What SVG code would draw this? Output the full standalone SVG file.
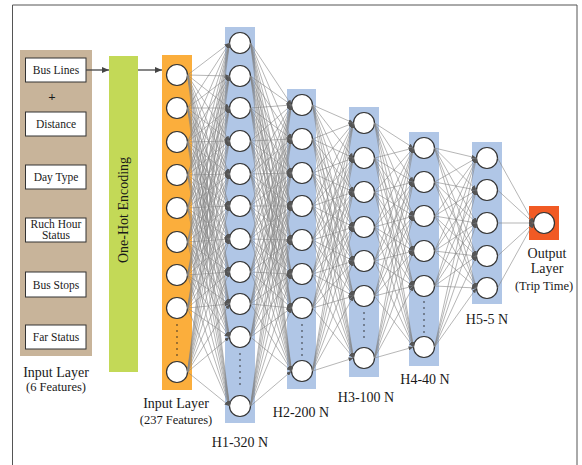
<svg xmlns="http://www.w3.org/2000/svg" width="582" height="465" viewBox="0 0 582 465">
<style>
text{font-family:"Liberation Serif","Times New Roman",serif;fill:#1a1a1a;text-anchor:middle}
.bx{fill:#fff;stroke:#333;stroke-width:1}
.bt{font-size:11.5px}
.lb{font-size:14px}
.sm{font-size:12.5px}
.n{fill:#fff;stroke:#333;stroke-width:1.2}
.band{fill:#b0c6e6}
.dots{stroke:#222;stroke-width:1.6;stroke-linecap:round;stroke-dasharray:0 6;fill:none}
#connectors line{stroke:#858585;stroke-width:0.6;marker-end:url(#ah)}
.arr{stroke:#444;stroke-width:1.3;fill:none;marker-end:url(#ah2)}
</style>
<defs>
<marker id="ah" markerWidth="5" markerHeight="4" refX="5" refY="2" orient="auto" markerUnits="userSpaceOnUse"><path d="M0 0L5 2L0 4z" fill="#555"/></marker>
<marker id="ah2" markerWidth="7" markerHeight="6" refX="7" refY="3" orient="auto" markerUnits="userSpaceOnUse"><path d="M0 0L7 3L0 6z" fill="#444"/></marker>
</defs>
<path d="M12.5 466V5H577V466" fill="none" stroke="#555" stroke-width="1"/>

<g id="input-features">
<rect x="20" y="50" width="72" height="306" fill="#c8b49a"/>
<rect class="bx" x="25.5" y="58" width="60.5" height="24"/>
<text class="bt" x="56" y="74">Bus Lines</text>
<text x="52" y="101" style="font-size:13px;font-weight:bold">+</text>
<rect class="bx" x="25.5" y="112" width="60.5" height="24"/>
<text class="bt" x="56" y="128">Distance</text>
<rect class="bx" x="25.5" y="165" width="60.5" height="24"/>
<text class="bt" x="56" y="181">Day Type</text>
<rect class="bx" x="25.5" y="218" width="60.5" height="24"/>
<text class="bt" x="56" y="228">Ruch Hour</text>
<text class="bt" x="56" y="239">Status</text>
<rect class="bx" x="25.5" y="272" width="60.5" height="25"/>
<text class="bt" x="56" y="288.5">Bus Stops</text>
<rect class="bx" x="25.5" y="325" width="60.5" height="24"/>
<text class="bt" x="56" y="341">Far Status</text>
<text class="lb" x="56" y="377">Input Layer</text>
<text class="sm" x="56" y="391">(6 Features)</text>
</g>

<g id="one-hot">
<rect x="109" y="56" width="29" height="316" fill="#c3d957"/>
<text class="lb" transform="translate(128,210) rotate(-90)">One-Hot Encoding</text>
</g>

<g id="arrows">
<line class="arr" x1="86" y1="70" x2="109" y2="70"/>
<line class="arr" x1="138" y1="70" x2="162" y2="70"/>
</g>

<g id="layer-input">
<rect x="162" y="55" width="30" height="335" fill="#fbae3c"/>
<circle class="n" cx="177" cy="75" r="10.5"/><circle class="n" cx="177" cy="108" r="10.5"/><circle class="n" cx="177" cy="142" r="10.5"/><circle class="n" cx="177" cy="175" r="10.5"/><circle class="n" cx="177" cy="208" r="10.5"/><circle class="n" cx="177" cy="242" r="10.5"/><circle class="n" cx="177" cy="275" r="10.5"/><circle class="n" cx="177" cy="308" r="10.5"/><circle class="n" cx="177" cy="372" r="10.5"/>
<line class="dots" x1="177" y1="325" x2="177" y2="358"/>
<text class="lb" x="176" y="408">Input Layer</text>
<text class="sm" x="176" y="424">(237 Features)</text>
</g>

<g id="layer-h1">
<rect class="band" x="225" y="27" width="30" height="396"/>
<circle class="n" cx="240" cy="43" r="10.5"/><circle class="n" cx="240" cy="76" r="10.5"/><circle class="n" cx="240" cy="108" r="10.5"/><circle class="n" cx="240" cy="141" r="10.5"/><circle class="n" cx="240" cy="174" r="10.5"/><circle class="n" cx="240" cy="206" r="10.5"/><circle class="n" cx="240" cy="239" r="10.5"/><circle class="n" cx="240" cy="272" r="10.5"/><circle class="n" cx="240" cy="304" r="10.5"/><circle class="n" cx="240" cy="337" r="10.5"/><circle class="n" cx="240" cy="406" r="10.5"/>
<line class="dots" x1="240" y1="354" x2="240" y2="390"/>
<text class="lb" x="240" y="447">H1-320 N</text>
</g>

<g id="layer-h2">
<rect class="band" x="287" y="89" width="29" height="300"/>
<circle class="n" cx="302" cy="105" r="10.5"/><circle class="n" cx="302" cy="139" r="10.5"/><circle class="n" cx="302" cy="173" r="10.5"/><circle class="n" cx="302" cy="206" r="10.5"/><circle class="n" cx="302" cy="240" r="10.5"/><circle class="n" cx="302" cy="274" r="10.5"/><circle class="n" cx="302" cy="308" r="10.5"/><circle class="n" cx="302" cy="371" r="10.5"/>
<line class="dots" x1="302" y1="325" x2="302" y2="357"/>
<text class="lb" x="301" y="417">H2-200 N</text>
</g>

<g id="layer-h3">
<rect class="band" x="349" y="107" width="30" height="270"/>
<circle class="n" cx="364" cy="123" r="10.5"/><circle class="n" cx="364" cy="158" r="10.5"/><circle class="n" cx="364" cy="192" r="10.5"/><circle class="n" cx="364" cy="227" r="10.5"/><circle class="n" cx="364" cy="261" r="10.5"/><circle class="n" cx="364" cy="296" r="10.5"/><circle class="n" cx="364" cy="358" r="10.5"/>
<line class="dots" x1="364" y1="313" x2="364" y2="343"/>
<text class="lb" x="366" y="402">H3-100 N</text>
</g>

<g id="layer-h4">
<rect class="band" x="409" y="132" width="30" height="234"/>
<circle class="n" cx="424" cy="148" r="10.5"/><circle class="n" cx="424" cy="182" r="10.5"/><circle class="n" cx="424" cy="216" r="10.5"/><circle class="n" cx="424" cy="251" r="10.5"/><circle class="n" cx="424" cy="286" r="10.5"/><circle class="n" cx="424" cy="347" r="10.5"/>
<line class="dots" x1="424" y1="302" x2="424" y2="333"/>
<text class="lb" x="425" y="384">H4-40 N</text>
</g>

<g id="layer-h5">
<rect class="band" x="472" y="142" width="30" height="162"/>
<circle class="n" cx="487" cy="158" r="10.5"/><circle class="n" cx="487" cy="190" r="10.5"/><circle class="n" cx="487" cy="223" r="10.5"/><circle class="n" cx="487" cy="256" r="10.5"/><circle class="n" cx="487" cy="288" r="10.5"/>
<text class="lb" x="487" y="324">H5-5 N</text>
</g>

<g id="layer-output">
<rect x="529" y="206" width="30" height="34" fill="#f15a24"/>
<circle class="n" cx="544" cy="223" r="10.5"/>
<text class="lb" x="547" y="258">Output</text>
<text class="lb" x="547" y="273">Layer</text>
<text class="sm" x="544" y="290">(Trip Time)</text>
</g>

<g id="connectors">
<g transform="translate(187.5,0)">
<line y1="75" x2="42" y2="43"/><line y1="75" x2="42" y2="76"/><line y1="75" x2="42" y2="108"/><line y1="75" x2="42" y2="141"/><line y1="75" x2="42" y2="174"/><line y1="75" x2="42" y2="206"/><line y1="75" x2="42" y2="239"/><line y1="75" x2="42" y2="272"/><line y1="75" x2="42" y2="304"/><line y1="75" x2="42" y2="337"/><line y1="75" x2="42" y2="406"/>
<line y1="108" x2="42" y2="43"/><line y1="108" x2="42" y2="76"/><line y1="108" x2="42" y2="108"/><line y1="108" x2="42" y2="141"/><line y1="108" x2="42" y2="174"/><line y1="108" x2="42" y2="206"/><line y1="108" x2="42" y2="239"/><line y1="108" x2="42" y2="272"/><line y1="108" x2="42" y2="304"/><line y1="108" x2="42" y2="337"/><line y1="108" x2="42" y2="406"/>
<line y1="142" x2="42" y2="43"/><line y1="142" x2="42" y2="76"/><line y1="142" x2="42" y2="108"/><line y1="142" x2="42" y2="141"/><line y1="142" x2="42" y2="174"/><line y1="142" x2="42" y2="206"/><line y1="142" x2="42" y2="239"/><line y1="142" x2="42" y2="272"/><line y1="142" x2="42" y2="304"/><line y1="142" x2="42" y2="337"/><line y1="142" x2="42" y2="406"/>
<line y1="175" x2="42" y2="43"/><line y1="175" x2="42" y2="76"/><line y1="175" x2="42" y2="108"/><line y1="175" x2="42" y2="141"/><line y1="175" x2="42" y2="174"/><line y1="175" x2="42" y2="206"/><line y1="175" x2="42" y2="239"/><line y1="175" x2="42" y2="272"/><line y1="175" x2="42" y2="304"/><line y1="175" x2="42" y2="337"/><line y1="175" x2="42" y2="406"/>
<line y1="208" x2="42" y2="43"/><line y1="208" x2="42" y2="76"/><line y1="208" x2="42" y2="108"/><line y1="208" x2="42" y2="141"/><line y1="208" x2="42" y2="174"/><line y1="208" x2="42" y2="206"/><line y1="208" x2="42" y2="239"/><line y1="208" x2="42" y2="272"/><line y1="208" x2="42" y2="304"/><line y1="208" x2="42" y2="337"/><line y1="208" x2="42" y2="406"/>
<line y1="242" x2="42" y2="43"/><line y1="242" x2="42" y2="76"/><line y1="242" x2="42" y2="108"/><line y1="242" x2="42" y2="141"/><line y1="242" x2="42" y2="174"/><line y1="242" x2="42" y2="206"/><line y1="242" x2="42" y2="239"/><line y1="242" x2="42" y2="272"/><line y1="242" x2="42" y2="304"/><line y1="242" x2="42" y2="337"/><line y1="242" x2="42" y2="406"/>
<line y1="275" x2="42" y2="43"/><line y1="275" x2="42" y2="76"/><line y1="275" x2="42" y2="108"/><line y1="275" x2="42" y2="141"/><line y1="275" x2="42" y2="174"/><line y1="275" x2="42" y2="206"/><line y1="275" x2="42" y2="239"/><line y1="275" x2="42" y2="272"/><line y1="275" x2="42" y2="304"/><line y1="275" x2="42" y2="337"/><line y1="275" x2="42" y2="406"/>
<line y1="308" x2="42" y2="43"/><line y1="308" x2="42" y2="76"/><line y1="308" x2="42" y2="108"/><line y1="308" x2="42" y2="141"/><line y1="308" x2="42" y2="174"/><line y1="308" x2="42" y2="206"/><line y1="308" x2="42" y2="239"/><line y1="308" x2="42" y2="272"/><line y1="308" x2="42" y2="304"/><line y1="308" x2="42" y2="337"/><line y1="308" x2="42" y2="406"/>
<line y1="372" x2="42" y2="43"/><line y1="372" x2="42" y2="76"/><line y1="372" x2="42" y2="108"/><line y1="372" x2="42" y2="141"/><line y1="372" x2="42" y2="174"/><line y1="372" x2="42" y2="206"/><line y1="372" x2="42" y2="239"/><line y1="372" x2="42" y2="272"/><line y1="372" x2="42" y2="304"/><line y1="372" x2="42" y2="337"/><line y1="372" x2="42" y2="406"/>
</g>
<g transform="translate(250.5,0)">
<line y1="43" x2="41" y2="105"/><line y1="43" x2="41" y2="139"/><line y1="43" x2="41" y2="173"/><line y1="43" x2="41" y2="206"/><line y1="43" x2="41" y2="240"/><line y1="43" x2="41" y2="274"/><line y1="43" x2="41" y2="308"/><line y1="43" x2="41" y2="371"/>
<line y1="76" x2="41" y2="105"/><line y1="76" x2="41" y2="139"/><line y1="76" x2="41" y2="173"/><line y1="76" x2="41" y2="206"/><line y1="76" x2="41" y2="240"/><line y1="76" x2="41" y2="274"/><line y1="76" x2="41" y2="308"/><line y1="76" x2="41" y2="371"/>
<line y1="108" x2="41" y2="105"/><line y1="108" x2="41" y2="139"/><line y1="108" x2="41" y2="173"/><line y1="108" x2="41" y2="206"/><line y1="108" x2="41" y2="240"/><line y1="108" x2="41" y2="274"/><line y1="108" x2="41" y2="308"/><line y1="108" x2="41" y2="371"/>
<line y1="141" x2="41" y2="105"/><line y1="141" x2="41" y2="139"/><line y1="141" x2="41" y2="173"/><line y1="141" x2="41" y2="206"/><line y1="141" x2="41" y2="240"/><line y1="141" x2="41" y2="274"/><line y1="141" x2="41" y2="308"/><line y1="141" x2="41" y2="371"/>
<line y1="174" x2="41" y2="105"/><line y1="174" x2="41" y2="139"/><line y1="174" x2="41" y2="173"/><line y1="174" x2="41" y2="206"/><line y1="174" x2="41" y2="240"/><line y1="174" x2="41" y2="274"/><line y1="174" x2="41" y2="308"/><line y1="174" x2="41" y2="371"/>
<line y1="206" x2="41" y2="105"/><line y1="206" x2="41" y2="139"/><line y1="206" x2="41" y2="173"/><line y1="206" x2="41" y2="206"/><line y1="206" x2="41" y2="240"/><line y1="206" x2="41" y2="274"/><line y1="206" x2="41" y2="308"/><line y1="206" x2="41" y2="371"/>
<line y1="239" x2="41" y2="105"/><line y1="239" x2="41" y2="139"/><line y1="239" x2="41" y2="173"/><line y1="239" x2="41" y2="206"/><line y1="239" x2="41" y2="240"/><line y1="239" x2="41" y2="274"/><line y1="239" x2="41" y2="308"/><line y1="239" x2="41" y2="371"/>
<line y1="272" x2="41" y2="105"/><line y1="272" x2="41" y2="139"/><line y1="272" x2="41" y2="173"/><line y1="272" x2="41" y2="206"/><line y1="272" x2="41" y2="240"/><line y1="272" x2="41" y2="274"/><line y1="272" x2="41" y2="308"/><line y1="272" x2="41" y2="371"/>
<line y1="304" x2="41" y2="105"/><line y1="304" x2="41" y2="139"/><line y1="304" x2="41" y2="173"/><line y1="304" x2="41" y2="206"/><line y1="304" x2="41" y2="240"/><line y1="304" x2="41" y2="274"/><line y1="304" x2="41" y2="308"/><line y1="304" x2="41" y2="371"/>
<line y1="337" x2="41" y2="105"/><line y1="337" x2="41" y2="139"/><line y1="337" x2="41" y2="173"/><line y1="337" x2="41" y2="206"/><line y1="337" x2="41" y2="240"/><line y1="337" x2="41" y2="274"/><line y1="337" x2="41" y2="308"/><line y1="337" x2="41" y2="371"/>
<line y1="406" x2="41" y2="105"/><line y1="406" x2="41" y2="139"/><line y1="406" x2="41" y2="173"/><line y1="406" x2="41" y2="206"/><line y1="406" x2="41" y2="240"/><line y1="406" x2="41" y2="274"/><line y1="406" x2="41" y2="308"/><line y1="406" x2="41" y2="371"/>
</g>
<g transform="translate(312.5,0)">
<line y1="105" x2="41" y2="123"/><line y1="105" x2="41" y2="158"/><line y1="105" x2="41" y2="192"/><line y1="105" x2="41" y2="227"/><line y1="105" x2="41" y2="261"/><line y1="105" x2="41" y2="296"/><line y1="105" x2="41" y2="358"/>
<line y1="139" x2="41" y2="123"/><line y1="139" x2="41" y2="158"/><line y1="139" x2="41" y2="192"/><line y1="139" x2="41" y2="227"/><line y1="139" x2="41" y2="261"/><line y1="139" x2="41" y2="296"/><line y1="139" x2="41" y2="358"/>
<line y1="173" x2="41" y2="123"/><line y1="173" x2="41" y2="158"/><line y1="173" x2="41" y2="192"/><line y1="173" x2="41" y2="227"/><line y1="173" x2="41" y2="261"/><line y1="173" x2="41" y2="296"/><line y1="173" x2="41" y2="358"/>
<line y1="206" x2="41" y2="123"/><line y1="206" x2="41" y2="158"/><line y1="206" x2="41" y2="192"/><line y1="206" x2="41" y2="227"/><line y1="206" x2="41" y2="261"/><line y1="206" x2="41" y2="296"/><line y1="206" x2="41" y2="358"/>
<line y1="240" x2="41" y2="123"/><line y1="240" x2="41" y2="158"/><line y1="240" x2="41" y2="192"/><line y1="240" x2="41" y2="227"/><line y1="240" x2="41" y2="261"/><line y1="240" x2="41" y2="296"/><line y1="240" x2="41" y2="358"/>
<line y1="274" x2="41" y2="123"/><line y1="274" x2="41" y2="158"/><line y1="274" x2="41" y2="192"/><line y1="274" x2="41" y2="227"/><line y1="274" x2="41" y2="261"/><line y1="274" x2="41" y2="296"/><line y1="274" x2="41" y2="358"/>
<line y1="308" x2="41" y2="123"/><line y1="308" x2="41" y2="158"/><line y1="308" x2="41" y2="192"/><line y1="308" x2="41" y2="227"/><line y1="308" x2="41" y2="261"/><line y1="308" x2="41" y2="296"/><line y1="308" x2="41" y2="358"/>
<line y1="371" x2="41" y2="123"/><line y1="371" x2="41" y2="158"/><line y1="371" x2="41" y2="192"/><line y1="371" x2="41" y2="227"/><line y1="371" x2="41" y2="261"/><line y1="371" x2="41" y2="296"/><line y1="371" x2="41" y2="358"/>
</g>
<g transform="translate(374.5,0)">
<line y1="123" x2="39" y2="148"/><line y1="123" x2="39" y2="182"/><line y1="123" x2="39" y2="216"/><line y1="123" x2="39" y2="251"/><line y1="123" x2="39" y2="286"/><line y1="123" x2="39" y2="347"/>
<line y1="158" x2="39" y2="148"/><line y1="158" x2="39" y2="182"/><line y1="158" x2="39" y2="216"/><line y1="158" x2="39" y2="251"/><line y1="158" x2="39" y2="286"/><line y1="158" x2="39" y2="347"/>
<line y1="192" x2="39" y2="148"/><line y1="192" x2="39" y2="182"/><line y1="192" x2="39" y2="216"/><line y1="192" x2="39" y2="251"/><line y1="192" x2="39" y2="286"/><line y1="192" x2="39" y2="347"/>
<line y1="227" x2="39" y2="148"/><line y1="227" x2="39" y2="182"/><line y1="227" x2="39" y2="216"/><line y1="227" x2="39" y2="251"/><line y1="227" x2="39" y2="286"/><line y1="227" x2="39" y2="347"/>
<line y1="261" x2="39" y2="148"/><line y1="261" x2="39" y2="182"/><line y1="261" x2="39" y2="216"/><line y1="261" x2="39" y2="251"/><line y1="261" x2="39" y2="286"/><line y1="261" x2="39" y2="347"/>
<line y1="296" x2="39" y2="148"/><line y1="296" x2="39" y2="182"/><line y1="296" x2="39" y2="216"/><line y1="296" x2="39" y2="251"/><line y1="296" x2="39" y2="286"/><line y1="296" x2="39" y2="347"/>
<line y1="358" x2="39" y2="148"/><line y1="358" x2="39" y2="182"/><line y1="358" x2="39" y2="216"/><line y1="358" x2="39" y2="251"/><line y1="358" x2="39" y2="286"/><line y1="358" x2="39" y2="347"/>
</g>
<g transform="translate(434.5,0)">
<line y1="148" x2="42" y2="158"/><line y1="148" x2="42" y2="190"/><line y1="148" x2="42" y2="223"/><line y1="148" x2="42" y2="256"/><line y1="148" x2="42" y2="288"/>
<line y1="182" x2="42" y2="158"/><line y1="182" x2="42" y2="190"/><line y1="182" x2="42" y2="223"/><line y1="182" x2="42" y2="256"/><line y1="182" x2="42" y2="288"/>
<line y1="216" x2="42" y2="158"/><line y1="216" x2="42" y2="190"/><line y1="216" x2="42" y2="223"/><line y1="216" x2="42" y2="256"/><line y1="216" x2="42" y2="288"/>
<line y1="251" x2="42" y2="158"/><line y1="251" x2="42" y2="190"/><line y1="251" x2="42" y2="223"/><line y1="251" x2="42" y2="256"/><line y1="251" x2="42" y2="288"/>
<line y1="286" x2="42" y2="158"/><line y1="286" x2="42" y2="190"/><line y1="286" x2="42" y2="223"/><line y1="286" x2="42" y2="256"/><line y1="286" x2="42" y2="288"/>
<line y1="347" x2="42" y2="158"/><line y1="347" x2="42" y2="190"/><line y1="347" x2="42" y2="223"/><line y1="347" x2="42" y2="256"/><line y1="347" x2="42" y2="288"/>
</g>
<g transform="translate(497.5,0)">
<line y1="158" x2="36" y2="223"/><line y1="190" x2="36" y2="223"/><line y1="223" x2="36" y2="223"/><line y1="256" x2="36" y2="223"/><line y1="288" x2="36" y2="223"/>
</g>
</g>
</svg>
